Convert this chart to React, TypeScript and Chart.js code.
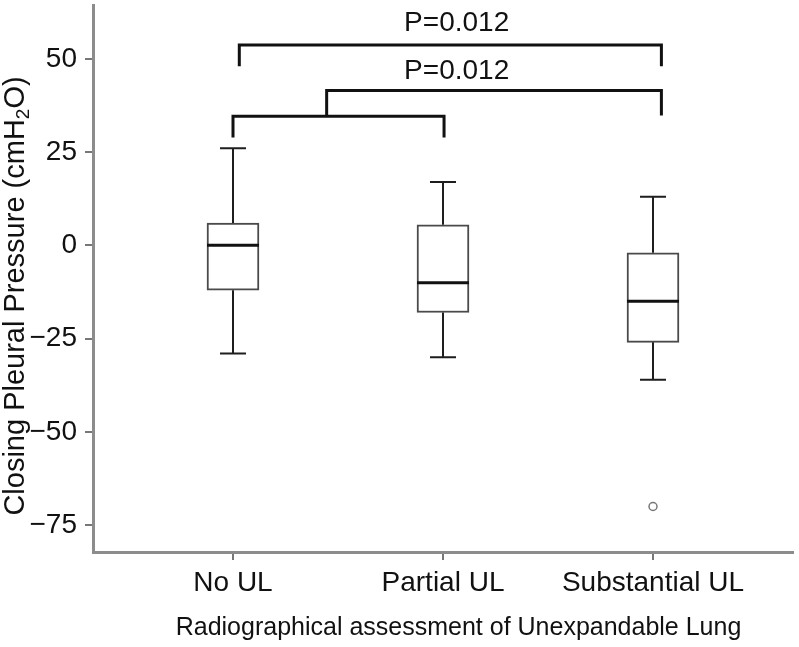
import React, { useEffect, useRef } from "react";
import { Chart, registerables } from "chart.js";

Chart.register(...registerables);

// ---- data ----
const categories = ["No UL", "Partial UL", "Substantial UL"];
const whiskerLow = [-29, -30, -36];
const quartile1 = [-12, -18, -26];
const medians = [0, -10, -15];
const quartile3 = [6, 5.5, -2];
const whiskerHigh = [26, 17, 13];
const outlierGroup = [3];
const outlierValue = [-70];
const yTickValues = [-75, -50, -25, 0, 25, 50];
const pLabels = ["P=0.012", "P=0.012"];
const xTitle = "Radiographical assessment of Unexpandable Lung";

// significance brackets (data units)
const bracketTop = { x1: 1.03, x2: 3.04, bar: 53.7, leg1: 48.0, leg2: 48.0 };
const bracketLow = { x1: 1.0, x2: 2.005, bar: 34.6, leg1: 28.9, leg2: 28.9 };
const bracketMid = { x1: 1.446, x2: 3.04, bar: 41.5, leg1: 34.6, leg2: 34.8 };
const pLabelX = [2.065, 2.065];
const pLabelY = [57.4, 44.5];

const FONT = '"Liberation Sans", Arimo, Arial, Helvetica, sans-serif';

const boxPlugin = {
  id: "boxDetails",
  afterDatasetsDraw(chart: any) {
    const { ctx, scales } = chart;
    const xs = scales.x;
    const ys = scales.y;
    ctx.save();
    ctx.lineCap = "butt";
    categories.forEach((_, i) => {
      const cx = xs.getPixelForValue(i + 1);
      const half = 13;
      ctx.strokeStyle = "#1e1e1e";
      ctx.lineWidth = 2;
      ctx.beginPath();
      ctx.moveTo(cx, ys.getPixelForValue(quartile3[i]));
      ctx.lineTo(cx, ys.getPixelForValue(whiskerHigh[i]));
      ctx.moveTo(cx - half, ys.getPixelForValue(whiskerHigh[i]));
      ctx.lineTo(cx + half, ys.getPixelForValue(whiskerHigh[i]));
      ctx.moveTo(cx, ys.getPixelForValue(quartile1[i]));
      ctx.lineTo(cx, ys.getPixelForValue(whiskerLow[i]));
      ctx.moveTo(cx - half, ys.getPixelForValue(whiskerLow[i]));
      ctx.lineTo(cx + half, ys.getPixelForValue(whiskerLow[i]));
      ctx.stroke();
      ctx.strokeStyle = "#111";
      ctx.lineWidth = 3;
      ctx.beginPath();
      ctx.moveTo(cx - 26, ys.getPixelForValue(medians[i]));
      ctx.lineTo(cx + 26, ys.getPixelForValue(medians[i]));
      ctx.stroke();
    });

    // brackets
    ctx.strokeStyle = "#111";
    ctx.lineWidth = 3;
    ctx.lineJoin = "miter";
    [bracketTop, bracketLow, bracketMid].forEach((b) => {
      ctx.beginPath();
      ctx.moveTo(xs.getPixelForValue(b.x1), ys.getPixelForValue(b.leg1));
      ctx.lineTo(xs.getPixelForValue(b.x1), ys.getPixelForValue(b.bar));
      ctx.lineTo(xs.getPixelForValue(b.x2), ys.getPixelForValue(b.bar));
      ctx.lineTo(xs.getPixelForValue(b.x2), ys.getPixelForValue(b.leg2));
      ctx.stroke();
    });

    ctx.fillStyle = "#111";
    ctx.font = `28px ${FONT}`;
    ctx.textAlign = "center";
    ctx.textBaseline = "alphabetic";
    pLabels.forEach((t, i) => {
      ctx.fillText(t, xs.getPixelForValue(pLabelX[i]), ys.getPixelForValue(pLabelY[i]));
    });
    ctx.restore();
  },
  afterDraw(chart: any) {
    const { ctx } = chart;
    // x-axis title
    ctx.save();
    ctx.fillStyle = "#111";
    ctx.font = `25px ${FONT}`;
    ctx.textAlign = "center";
    ctx.textBaseline = "alphabetic";
    ctx.fillText(xTitle, 458.5, 635);
    ctx.restore();

    // y-axis title with subscript
    const main = "Closing Pleural Pressure (cmH";
    const sub = "2";
    const tail = "O)";
    ctx.save();
    ctx.translate(24, 296);
    ctx.rotate(-Math.PI / 2);
    ctx.fillStyle = "#111";
    ctx.textBaseline = "alphabetic";
    ctx.textAlign = "left";
    ctx.font = `29px ${FONT}`;
    const w1 = ctx.measureText(main).width;
    const w3 = ctx.measureText(tail).width;
    ctx.font = `19px ${FONT}`;
    const w2 = ctx.measureText(sub).width;
    const start = -(w1 + w2 + w3) / 2;
    ctx.font = `29px ${FONT}`;
    ctx.fillText(main, start, 0);
    ctx.fillText(tail, start + w1 + w2, 0);
    ctx.font = `19px ${FONT}`;
    ctx.fillText(sub, start + w1, 5);
    ctx.restore();
  },
};

export default function App() {
  const ref = useRef<HTMLCanvasElement>(null);
  useEffect(() => {
    if (!ref.current) return;
    const chart = new Chart(ref.current, {
      type: "scatter",
      data: {
        datasets: [
          {
            type: "bar",
            data: categories.map((_, i) => ({ x: i + 1, y: [quartile1[i], quartile3[i]] })) as any,
            backgroundColor: "#ffffff",
            borderColor: "#4a4a4a",
            borderWidth: 2,
            borderSkipped: false,
            barThickness: 52,
          } as any,
          {
            type: "scatter",
            data: outlierGroup.map((g, i) => ({ x: g, y: outlierValue[i] })),
            pointRadius: 4,
            pointBorderWidth: 1.5,
            pointBorderColor: "#777",
            pointBackgroundColor: "#fff",
          },
        ],
      },
      options: {
        animation: false,
        responsive: false,
        events: [],
        layout: { padding: { top: 5, right: 6, left: 0, bottom: 0 } },
        plugins: { legend: { display: false }, tooltip: { enabled: false } },
        scales: {
          x: {
            type: "linear",
            min: 1 / 3,
            max: 11 / 3,
            offset: false,
            afterBuildTicks: (s: any) => {
              s.ticks = categories.map((_, i) => ({ value: i + 1 }));
            },
            afterFit: (s: any) => {
              s.height = 95;
              s.paddingLeft = 0;
              s.paddingRight = 0;
            },
            grid: {
              offset: false,
              drawOnChartArea: false,
              drawTicks: true,
              tickLength: 8,
              color: "#777",
              lineWidth: 2,
            },
            border: { display: true, color: "#8c8c8c", width: 3 },
            ticks: {
              autoSkip: false,
              maxRotation: 0,
              padding: 6,
              color: "#111",
              font: { size: 28, family: FONT },
              callback: (v: any) => categories[Math.round(Number(v)) - 1] ?? "",
            },
            title: { display: false },
          },
          y: {
            type: "linear",
            min: -82.2,
            max: 64.3,
            afterBuildTicks: (s: any) => {
              s.ticks = yTickValues.map((v) => ({ value: v }));
            },
            afterFit: (s: any) => {
              s.width = 93;
              s.paddingTop = 0;
              s.paddingBottom = 0;
            },
            grid: {
              drawOnChartArea: false,
              drawTicks: true,
              tickLength: 8,
              color: "#777",
              lineWidth: 2,
            },
            border: { display: true, color: "#8c8c8c", width: 3 },
            ticks: {
              padding: 8,
              color: "#111",
              font: { size: 28, family: FONT },
              callback: (v: any) => (Number(v) < 0 ? "\u2212" + Math.abs(Number(v)) : String(v)),
            },
          },
        },
      },
      plugins: [boxPlugin],
    });
    return () => chart.destroy();
  }, []);
  return (
    <div style={{ position: "fixed", left: 0, top: 0, width: 799, height: 647, background: "#fff" }}>
      <canvas ref={ref} width={799} height={647} style={{ display: "block" }} />
    </div>
  );
}
